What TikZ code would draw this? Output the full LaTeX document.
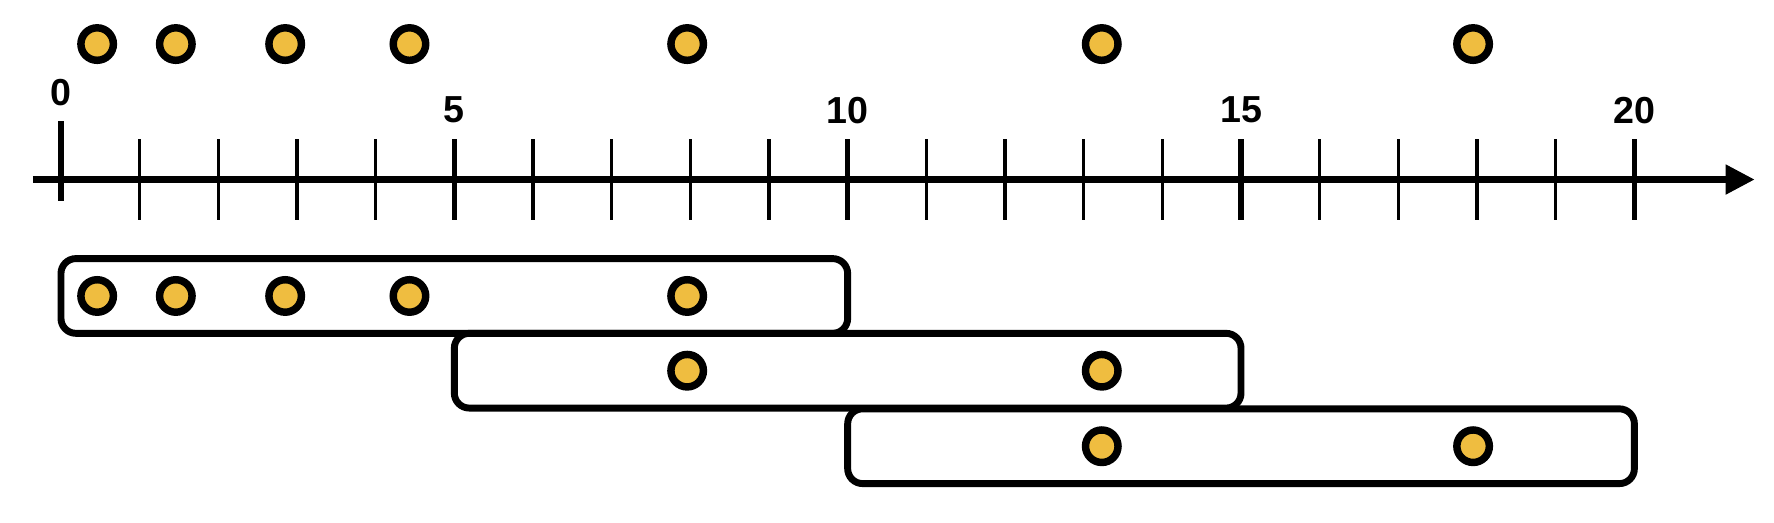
\documentclass[tikz,border=0pt]{standalone}
\usepackage{fontspec}
\setmainfont{Liberation Sans}
\usetikzlibrary{arrows.meta}
\definecolor{dotyellow}{RGB}{239,189,64}
\tikzset{
  dot/.style={circle, draw, line width=2.7pt, fill=dotyellow, minimum size=0.413cm, inner sep=0pt},
  window/.style={draw, line width=2.5pt, rounded corners=0.19cm, minimum width=10cm, minimum height=0.95cm, inner sep=0pt},
  ticklabel/.style={font=\bfseries\fontsize{13.6}{16}\selectfont, inner sep=0pt}
}
\begin{document}
\begin{tikzpicture}
\useasboundingbox (-0.775,-4.354) rectangle (21.775,2.282);
% time axis
\coordinate (start) at (-0.356,0);
\coordinate (end) at (21.53,0);
\draw[line width=2.5pt, -{Triangle[length=0.37cm,width=0.36cm]}] (start) -- (end);
\foreach \i in {1,2,3,4,6,7,8,9,11,12,13,14,16,17,18,19}
  \draw[line width=1.2pt] (\i,0.515) -- (\i,-0.515);
\foreach \i in {5,10,15,20} {
  \draw[line width=2pt] (\i,0.515) -- (\i,-0.515);
  \node[ticklabel] (l\i) at (\i,0.883) {\i};
}
\draw[line width=2pt] (0,0.744) -- (0,-0.273);
\node[ticklabel] (l0) at (0,1.10) {0};

% events
\foreach \x [count=\n] in {0.46,1.46,2.85,4.43,7.96,13.23,17.95}
  \node[dot] (p\n) at (\x,1.722) {};

% windows
\node[window] (w1) at (5,-1.48) {};
\node[window] (w2) at (10,-2.43) {};
\node[window] (w3) at (15,-3.39) {};
\foreach \x [count=\n] in {0.46,1.46,2.85,4.43,7.96}
  \node[dot] (a\n) at (\x,-1.48) {};
\foreach \x [count=\n] in {7.96,13.23}
  \node[dot] (b\n) at (\x,-2.43) {};
\foreach \x [count=\n] in {13.23,17.95}
  \node[dot] (c\n) at (\x,-3.39) {};
\end{tikzpicture}
\end{document}
